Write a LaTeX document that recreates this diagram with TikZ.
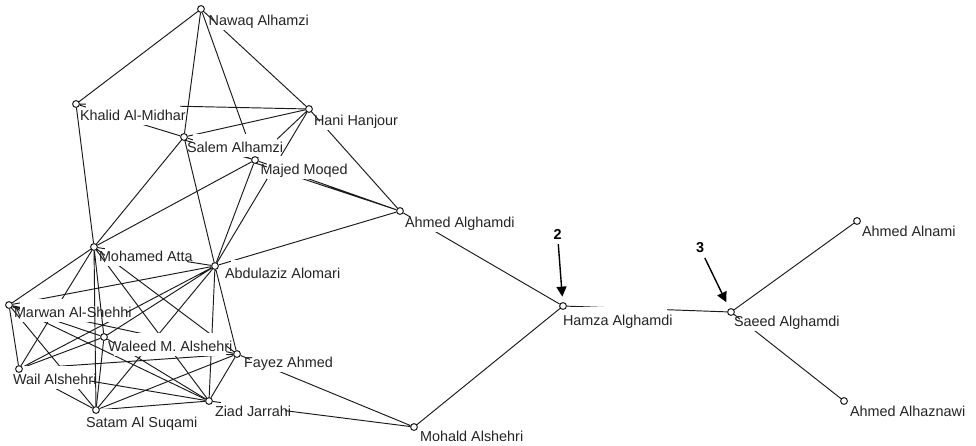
\documentclass[tikz,border=0pt]{standalone}
\usepackage{fontspec}
\setmainfont{Liberation Sans}
\usetikzlibrary{arrows.meta}
\definecolor{ink}  {HTML}{1A1A1A}
\definecolor{ink80}{HTML}{242424}
\pgfdeclarelayer{edges}
\pgfdeclarelayer{tags}
\pgfsetlayers{edges,tags,main}

\begin{document}
\begin{tikzpicture}[
  x=1pt, y=-1pt,
  font=\fontsize{14.4}{17}\selectfont,
  person/.style={circle, draw=ink, fill=white, line width=1pt,
                 minimum size=6.8pt, inner sep=0pt},
  nametag/.style={anchor=text, fill=white, text=ink80, inner xsep=-6pt,
                  inner ysep=1.5pt, text height=17pt, text depth=3pt},
  tie/.style={draw=ink, line width=0.95pt},
  callout/.style={font=\fontsize{14.4}{17}\selectfont\bfseries, inner sep=2pt},
  pointer/.style={draw=black, line width=1.4pt, -{Triangle[length=10pt, width=10pt]}}
]
\useasboundingbox (0,0) rectangle (976,445);

\node[person] (nawaq)     at (201,9)   {};
\node[person] (khalid)    at (76,104)  {};
\node[person] (hani)      at (309,109) {};
\node[person] (salem)     at (184,137) {};
\node[person] (majed)     at (255,160) {};
\node[person] (alghamdi)  at (400,211) {};
\node[person] (atta)      at (94,247)  {};
\node[person] (alomari)   at (215,266) {};
\node[person] (marwan)    at (9,305)   {};
\node[person] (waleed)    at (104,337) {};
\node[person] (wail)      at (19,369)  {};
\node[person] (fayez)     at (237,354) {};
\node[person] (satam)     at (96,410)  {};
\node[person] (ziad)      at (209,401) {};
\node[person] (mohald)    at (414,427) {};
\node[person] (hamza)     at (563,306) {};
\node[person] (saeed)     at (731,312) {};
\node[person] (alnami)    at (857,221) {};
\node[person] (alhaznawi) at (844,401) {};

\begin{pgfonlayer}{edges}
\draw[tie] (nawaq) -- (khalid) (nawaq) -- (hani) (nawaq) -- (salem) (nawaq) -- (majed);
\draw[tie] (khalid) -- (hani) (khalid) -- (salem) (khalid) -- (atta);
\draw[tie] (hani) -- (salem) (hani) -- (majed) (hani) -- (alomari) (hani) -- (alghamdi);
\draw[tie] (salem) -- (majed) ([yshift=-3pt]salem.center) -- (majed);
\draw[tie] (salem) -- (alomari) (salem) -- (atta);
\draw[tie] (majed) -- (alomari) (majed) -- (atta);
\draw[tie] (majed) -- (alghamdi) ([yshift=-3pt]majed.center) -- (alghamdi);
\draw[tie] (alghamdi) -- (alomari) (alghamdi) -- (hamza);
\draw[tie] (atta) -- (alomari) (atta) -- (marwan) (atta) -- (wail);
\draw[tie] (atta) -- (fayez) (atta) -- (ziad);
\draw[tie] (alomari) -- (marwan) (alomari) -- (wail) (alomari) -- (waleed);
\draw[tie] (alomari) -- (satam) (alomari) -- (ziad) (alomari) -- (fayez);
\draw[tie] (marwan) -- (wail) (marwan) -- (satam) (marwan) -- (ziad);
\draw[tie] (marwan) -- (waleed) (marwan) -- (fayez);
\draw[tie] (waleed) -- (wail) (waleed) -- (satam) (waleed) -- (ziad);
\draw[tie] (wail) -- (satam) (wail) -- (ziad) (wail) -- (fayez);
\draw[tie] (satam) -- (fayez) (satam) -- (ziad) (fayez) -- (ziad);
\draw[tie] (fayez) -- (mohald) (ziad) -- (mohald) (mohald) -- (hamza);
\draw[tie] (hamza) -- (saeed) (saeed) -- (alnami) (saeed) -- (alhaznawi);
\end{pgfonlayer}

\begin{pgfonlayer}{tags}
\node[nametag] (nawaqtxt)     at (208.7,25) {Nawaq Alhamzi};
\node[nametag] (khalidtxt)    at (80,120)   {Khalid Al-Midhar};
\node[nametag] (hanitxt)      at (314,125)  {Hani Hanjour};
\node[nametag] (salemtxt)     at (187,152)  {Salem Alhamzi};
\node[nametag] (majedtxt)     at (260.5,174) {Majed Moqed};
\node[nametag] (alghamditxt)  at (405,227)  {Ahmed Alghamdi};
\node[nametag] (attatxt)      at (99,261)   {Mohamed Atta};
\node[nametag] (alomaritxt)   at (225,278)  {Abdulaziz Alomari};
\node[nametag] (marwantxt)    at (14,317)   {Marwan Al-Shehhi};
\node[nametag] (waleedtxt)    at (108,351)  {Waleed M. Alshehri};
\node[nametag] (wailtxt)      at (13,384)   {Wail Alshehri};
\node[nametag] (fayeztxt)     at (244,367)  {Fayez Ahmed};
\node[nametag] (satamtxt)     at (86,427)   {Satam Al Suqami};
\node[nametag] (ziadtxt)      at (215,416)  {Ziad Jarrahi};
\node[nametag] (mohaldtxt)    at (420,441)  {Mohald Alshehri};
\node[nametag] (hamzatxt)     at (563,325)  {Hamza Alghamdi};
\node[nametag] (saeedtxt)     at (734,326)  {Saeed Alghamdi};
\node[nametag] (alnamitxt)    at (862,236)  {Ahmed Alnami};
\node[nametag] (alhaznawitxt) at (850,416)  {Ahmed Alhaznawi};
\end{pgfonlayer}

\draw[tie] (atta) -- (satam) (atta) -- (waleed);

\node[callout] (two)   at (557.5,234) {2};
\node[callout] (three) at (700,248)   {3};
\draw[pointer, shorten <=3pt, shorten >=5.5pt] (two) -- (hamza);
\draw[pointer, shorten <=3pt, shorten >=7pt] (three) -- (saeed);
\end{tikzpicture}
\end{document}
